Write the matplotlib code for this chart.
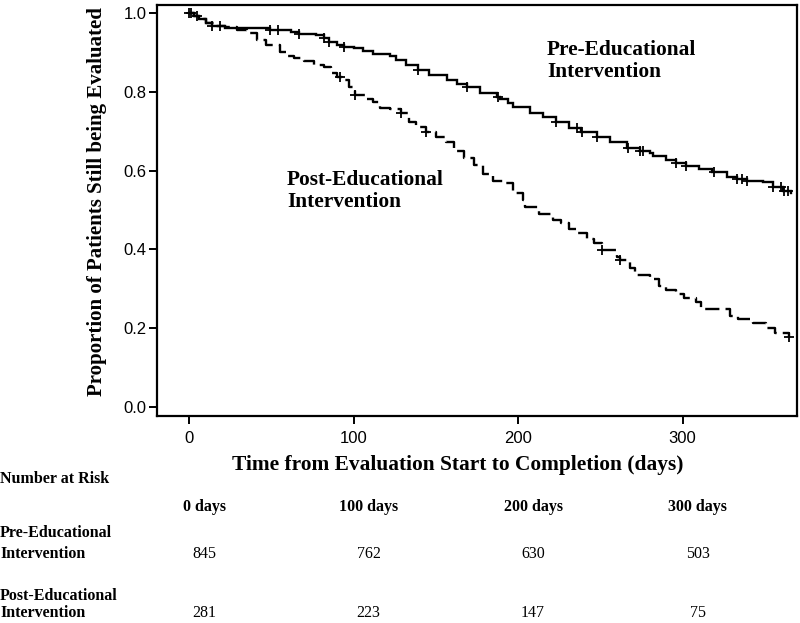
import numpy as np
import matplotlib
matplotlib.use("Agg")
import matplotlib.pyplot as plt
from matplotlib.transforms import blended_transform_factory, ScaledTranslation

# ---------------- data ----------------
pre_t = [0, 3, 6, 10, 14, 22, 35, 49, 55, 62, 67, 77, 82, 85, 90, 94, 100, 106,
         112, 122, 126, 132, 139, 146, 157, 163, 169, 177, 187, 189, 194, 197,
         207, 215, 223, 231, 238, 248, 256, 266, 274, 280, 282, 290, 296, 302,
         310, 318, 327, 333, 339, 349, 355, 361, 366]
pre_s = [1.0, 0.993, 0.986, 0.974, 0.966, 0.963, 0.961, 0.958, 0.956, 0.951,
         0.946, 0.943, 0.936, 0.926, 0.918, 0.914, 0.910, 0.904, 0.895, 0.891,
         0.881, 0.868, 0.855, 0.843, 0.830, 0.819, 0.811, 0.796, 0.786, 0.781,
         0.771, 0.761, 0.745, 0.737, 0.724, 0.707, 0.699, 0.686, 0.673, 0.657,
         0.650, 0.644, 0.636, 0.627, 0.619, 0.612, 0.603, 0.597, 0.585, 0.578,
         0.574, 0.570, 0.558, 0.549, 0.544]
pre_cens = [0, 1, 5, 14, 19, 49, 54, 67, 82, 85, 94, 139, 169, 188, 223, 236,
            239, 248, 267, 274, 276, 296, 302, 319, 333, 336, 339, 355, 360,
            362, 364]

post_t = [0, 3, 6, 10, 15, 22, 29, 35, 41, 47, 55, 59, 64, 70, 76, 82, 86, 90,
          93, 97, 101, 107, 112, 116, 122, 129, 134, 138, 144, 150, 156, 161,
          167, 173, 179, 185, 191, 197, 203, 204, 213, 221, 226, 231, 236, 242,
          246, 251, 260, 262, 268, 271, 280, 286, 290, 296, 301, 308, 311, 319,
          329, 334, 343, 351, 356, 365]
post_s = [1.0, 0.993, 0.986, 0.975, 0.968, 0.964, 0.957, 0.948, 0.931, 0.919,
          0.902, 0.892, 0.887, 0.877, 0.867, 0.862, 0.847, 0.838, 0.830, 0.813,
          0.792, 0.783, 0.773, 0.760, 0.756, 0.745, 0.724, 0.711, 0.699, 0.686,
          0.673, 0.650, 0.631, 0.614, 0.591, 0.574, 0.568, 0.544, 0.525, 0.507,
          0.491, 0.474, 0.468, 0.451, 0.441, 0.426, 0.415, 0.398, 0.380, 0.372,
          0.352, 0.335, 0.324, 0.307, 0.297, 0.288, 0.276, 0.267, 0.250, 0.248,
          0.231, 0.223, 0.214, 0.200, 0.187, 0.178]
post_cens = [92, 101, 129, 144, 251, 262, 365]

x_ticks = [0, 100, 200, 300]
y_ticks = [0.0, 0.2, 0.4, 0.6, 0.8, 1.0]
risk_cols = ["0 days", "100 days", "200 days", "300 days"]
risk_pre = [845, 762, 630, 503]
risk_post = [281, 223, 147, 75]
pre_label = "Pre-Educational\nIntervention"
post_label = "Post-Educational\nIntervention"

# ---------------- figure ----------------
SERIF = ["Liberation Serif", "DejaVu Serif"]
SANS = ["Liberation Sans", "DejaVu Sans"]

fig = plt.figure(figsize=(8.0, 6.23), dpi=100)
ax = fig.add_axes([157 / 800, 1 - 416 / 623, 640 / 800, 411 / 623])
ax.set_xlim(-19.5, 369.6)
ax.set_ylim(-0.0228, 1.0203)


def step_val(t, s, c):
    t = np.asarray(t)
    s = np.asarray(s)
    idx = np.searchsorted(t, c, side="right") - 1
    return s[np.clip(idx, 0, len(s) - 1)]


ax.plot(pre_t, pre_s, drawstyle="steps-post", color="black", lw=1.7,
        solid_joinstyle="miter")
ax.plot(post_t, post_s, drawstyle="steps-post", color="black", lw=1.7,
        linestyle=(0, (6.0, 2.6)))
ax.plot(pre_cens, step_val(pre_t, pre_s, pre_cens), linestyle="none",
        marker="+", ms=7.5, mew=1.3, color="black")
ax.plot(post_cens, step_val(post_t, post_s, post_cens), linestyle="none",
        marker="+", ms=7.5, mew=1.3, color="black")

for sp in ax.spines.values():
    sp.set_linewidth(1.6)
    sp.set_color("black")

ax.set_xticks(x_ticks)
ax.set_yticks(y_ticks)
ax.set_xticklabels([str(v) for v in x_ticks], family=SANS, fontsize=12)
ax.set_yticklabels([f"{v:.1f}" for v in y_ticks], family=SANS, fontsize=12)
ax.tick_params(axis="both", direction="out", length=6, width=1.4, color="black")
ax.tick_params(axis="y", pad=1.5)
ax.tick_params(axis="x", pad=5)

ax.set_ylabel("Proportion of Patients Still being Evaluated", family=SERIF,
              fontweight="bold", fontsize=15)
ax.yaxis.set_label_coords(107 / 800, 1 - 202 / 623, transform=fig.transFigure)

fig.text(458 / 800, 1 - 465 / 623,
         "Time from Evaluation Start to Completion (days)", family=SERIF,
         fontweight="bold", fontsize=15.4, ha="center", va="center")

ax.text(217.6, 0.878, pre_label, family=SERIF, fontweight="bold", fontsize=15.4,
        ha="left", va="center", linespacing=1.1)
ax.text(59.6, 0.548, post_label, family=SERIF, fontweight="bold", fontsize=15.4,
        ha="left", va="center", linespacing=1.1)

# ---------------- number at risk table ----------------
tr = blended_transform_factory(ax.transData, fig.transFigure) + \
    ScaledTranslation(15 / 100, 0, fig.dpi_scale_trans)


def fy(py):
    return 1 - py / 623


TF = 11.5
fig.text(0.0, fy(479), "Number at Risk", family=SERIF, fontweight="bold",
         fontsize=TF, ha="left", va="center")
fig.text(0.0, fy(533), "Pre-Educational", family=SERIF, fontweight="bold",
         fontsize=TF, ha="left", va="center")
fig.text(0.0, fy(554), "Intervention", family=SERIF, fontweight="bold",
         fontsize=TF, ha="left", va="center")
fig.text(0.0, fy(596), "Post-Educational", family=SERIF, fontweight="bold",
         fontsize=TF, ha="left", va="center")
fig.text(0.0, fy(613), "Intervention", family=SERIF, fontweight="bold",
         fontsize=TF, ha="left", va="center")

for xt, lab, n1, n2 in zip(x_ticks, risk_cols, risk_pre, risk_post):
    fig.text(xt, fy(507), lab, transform=tr, family=SERIF, fontweight="bold",
             fontsize=TF, ha="center", va="center")
    fig.text(xt, fy(554), str(n1), transform=tr, family=SERIF,
             fontsize=TF, ha="center", va="center")
    fig.text(xt, fy(613), str(n2), transform=tr, family=SERIF,
             fontsize=TF, ha="center", va="center")

fig.savefig("out.png", dpi=100)
